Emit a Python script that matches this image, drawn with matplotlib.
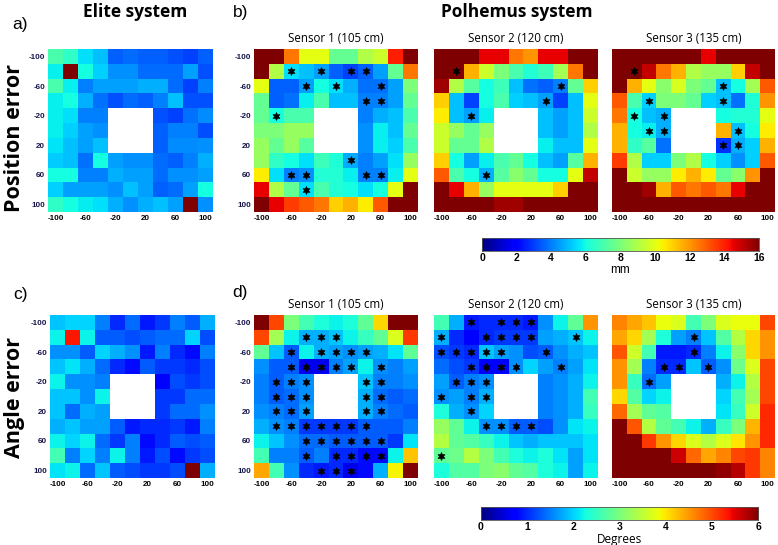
import numpy as np
import matplotlib
matplotlib.use("Agg")
import matplotlib.pyplot as plt

N = None
coords = [-100, -80, -60, -40, -20, 0, 20, 40, 60, 80, 100]
tick_vals = [-100, -60, -20, 20, 60, 100]

# Position error (mm); rows: y = -100 (top) .. 100 (bottom); cols: x = -100 .. 100
elite_pos = [
    [7.0, 6.5, 5.5, 5.0, 3.5, 3.7, 3.5, 3.5, 3.3, 3.0, 3.5],
    [5.8, 16.0, 6.0, 5.3, 4.3, 4.3, 3.7, 3.7, 3.7, 4.5, 3.3],
    [7.0, 5.8, 4.0, 4.5, 4.5, 4.5, 4.8, 4.8, 3.7, 3.0, 4.0],
    [5.8, 6.0, 4.8, 3.8, 3.3, 3.7, 3.5, 4.0, 5.0, 3.3, 3.3],
    [5.8, 5.5, 4.0, 4.0, N, N, N, 3.3, 3.0, 3.8, 4.2],
    [5.8, 5.3, 4.5, 4.3, N, N, N, 3.5, 4.0, 4.0, 3.2],
    [5.6, 5.0, 4.5, 5.0, N, N, N, 3.5, 4.2, 4.2, 4.3],
    [5.2, 5.0, 3.8, 6.0, 4.5, 4.3, 4.3, 3.7, 3.5, 4.0, 4.8],
    [6.0, 6.0, 4.0, 4.0, 4.8, 4.5, 4.5, 3.7, 4.3, 4.3, 4.5],
    [5.3, 4.5, 4.5, 4.5, 4.3, 5.0, 4.5, 3.5, 3.7, 4.5, 6.0],
    [6.5, 6.0, 5.7, 5.5, 4.8, 4.3, 4.8, 5.0, 4.5, 16.0, 4.3],
]
s1_pos = [
    [16, 16, 12.5, 10, 10, 7.5, 7.5, 9, 9.5, 14, 16],
    [16, 9, 5.5, 5, 4.5, 3.5, 3, 3.5, 4.5, 7.5, 12.5],
    [10, 3.5, 3.5, 4.5, 6, 5.5, 4.8, 3.8, 3.8, 4.5, 8],
    [7.5, 3.5, 3.8, 5.8, 7, 5, 5, 4, 4, 4.5, 7.5],
    [7.5, 6, 7, 7, N, N, N, 4, 4.8, 5, 7],
    [8, 8, 8.5, 8.5, N, N, N, 4.3, 5.8, 5, 7.5],
    [8.5, 7.5, 8.5, 7.3, N, N, N, 4.3, 5.8, 5.3, 7],
    [8.5, 6.5, 6, 5.5, 6.8, 6.2, 4.7, 4, 4.5, 5.5, 8.5],
    [10.5, 5.5, 4, 4.3, 6.3, 6.3, 5.8, 4, 4, 5.8, 10],
    [14.5, 9, 7.5, 5.5, 7, 6.3, 6, 5.5, 6, 10, 16],
    [16, 14.5, 13.5, 13, 12.5, 11, 11.5, 10.5, 13, 16, 16],
]
s2_pos = [
    [16, 16, 16, 14.5, 14.5, 12.5, 12, 14.5, 14.5, 16, 16],
    [16, 16, 11.5, 9.5, 8, 7, 6.3, 6.8, 8.8, 12.5, 16],
    [15.5, 9, 7.3, 6, 6.8, 5, 3.8, 3.5, 4, 7.5, 11],
    [11, 5, 3, 6, 7, 5.3, 5, 4.5, 3, 5, 10],
    [10.5, 5, 4.5, 5.8, N, N, N, 5, 4.5, 5, 9.5],
    [9.5, 8.5, 7.5, 8.5, N, N, N, 5, 4.5, 5, 9],
    [9.5, 7.5, 7.5, 9, N, N, N, 5.8, 5, 5, 10],
    [11, 6, 4.5, 5.8, 7, 7.5, 6, 5, 4.5, 7.3, 11.5],
    [13, 7, 6, 4.8, 7.3, 8.3, 7.5, 6, 6, 10, 15],
    [16, 14.5, 11.5, 8.5, 10, 10, 10, 10, 11, 16, 16],
    [16, 16, 16, 16, 15.5, 15.5, 16, 16, 16, 16, 16],
]
s3_pos = [
    [16, 16, 16, 16, 16, 16, 14.5, 16, 16, 16, 16],
    [16, 16, 15, 12.5, 11.5, 9, 8.5, 8.5, 11, 15, 16],
    [16, 11.5, 10, 8.3, 9.8, 8, 7.5, 5, 6, 8.8, 13],
    [13, 7, 5.3, 8, 8, 7.5, 5.3, 5, 3.8, 6.2, 12],
    [12.5, 6, 5, 4.8, N, N, N, 6, 6.3, 6.3, 10],
    [11.5, 6, 5.8, 4.8, N, N, N, 11.5, 5, 6, 10.5],
    [11.5, 6.5, 7.3, 3.8, N, N, N, 2.8, 4.8, 5.3, 11.5],
    [13.5, 9, 5.3, 5.3, 8, 9, 6, 5.3, 4.3, 5.3, 13],
    [16, 9.5, 8.5, 8.5, 10.5, 11.5, 10.5, 7.5, 8.3, 12, 16],
    [16, 16, 15.5, 11.5, 13, 12.5, 13, 12.5, 14.5, 16, 16],
    [16, 16, 16, 16, 16, 16, 16, 16, 16, 16, 16],
]

# Angle error (degrees)
elite_ang = [
    [1.9, 2.0, 2.0, 1.5, 1.0, 1.4, 0.9, 1.1, 1.5, 1.3, 1.8],
    [2.2, 5.3, 2.2, 1.3, 1.3, 1.2, 1.3, 1.4, 1.4, 2.0, 1.2],
    [1.6, 1.6, 1.3, 2.0, 1.8, 1.6, 0.9, 1.5, 1.0, 0.8, 1.5],
    [1.9, 2.1, 1.8, 1.4, 1.0, 0.8, 1.3, 1.1, 1.1, 1.0, 1.2],
    [2.2, 1.6, 1.6, 1.5, N, N, N, 0.7, 1.2, 1.1, 1.2],
    [1.9, 1.9, 1.6, 2.2, N, N, N, 1.1, 1.1, 1.4, 1.4],
    [1.9, 1.4, 1.8, 1.7, N, N, N, 1.1, 1.4, 1.4, 1.6],
    [1.8, 1.9, 1.7, 1.7, 1.3, 0.9, 1.0, 1.0, 1.1, 0.9, 1.5],
    [2.2, 2.0, 2.2, 1.4, 1.1, 1.5, 0.8, 1.0, 1.3, 1.2, 1.3],
    [2.6, 1.5, 2.0, 1.5, 2.2, 1.5, 0.9, 1.2, 0.8, 1.1, 1.2],
    [2.1, 2.2, 1.4, 1.9, 1.3, 1.2, 1.1, 1.1, 1.2, 6.0, 1.8],
]
s1_ang = [
    [6.0, 5.0, 3.0, 2.6, 2.3, 2.2, 2.3, 2.8, 4.1, 6.0, 6.0],
    [5.0, 3.3, 2.2, 1.8, 1.8, 1.9, 2.2, 2.5, 2.8, 3.7, 5.1],
    [2.8, 1.9, 1.3, 2.2, 1.8, 1.7, 1.6, 1.7, 1.8, 2.1, 2.8],
    [1.6, 1.3, 1.3, 0.6, 0.6, 1.5, 1.7, 2.2, 1.6, 1.5, 1.7],
    [1.5, 1.3, 1.5, 1.6, N, N, N, 1.9, 1.5, 1.5, 1.6],
    [1.5, 1.3, 1.4, 1.6, N, N, N, 1.8, 1.4, 1.3, 1.4],
    [1.6, 1.5, 1.4, 1.7, N, N, N, 1.8, 1.5, 1.4, 1.3],
    [1.8, 1.6, 1.5, 1.1, 1.1, 1.1, 1.1, 1.3, 1.3, 1.3, 1.5],
    [2.2, 1.9, 1.6, 1.4, 1.4, 1.3, 1.3, 1.3, 1.3, 1.1, 2.1],
    [2.6, 1.5, 1.5, 1.3, 1.5, 1.0, 1.0, 0.8, 0.8, 2.2, 4.2],
    [4.4, 2.6, 1.6, 1.0, 0.9, 1.0, 0.6, 0.8, 1.8, 3.9, 6.0],
]
s2_ang = [
    [2.6, 1.8, 0.9, 1.0, 1.0, 1.0, 0.9, 1.6, 2.2, 2.8, 4.5],
    [1.8, 1.0, 0.7, 1.0, 1.1, 1.1, 1.1, 1.7, 1.8, 1.9, 2.2],
    [1.2, 1.1, 1.0, 1.9, 1.7, 1.6, 1.2, 1.3, 1.6, 1.8, 1.9],
    [1.4, 1.2, 1.1, 0.7, 0.7, 1.6, 2.0, 1.7, 1.5, 1.7, 2.1],
    [1.7, 1.3, 1.5, 1.6, N, N, N, 1.5, 1.6, 1.8, 2.2],
    [1.6, 1.7, 1.5, 1.8, N, N, N, 1.5, 1.6, 1.8, 2.6],
    [2.3, 1.8, 1.6, 2.0, N, N, N, 1.5, 1.6, 1.8, 2.5],
    [3.2, 2.8, 2.2, 1.6, 1.6, 1.3, 1.3, 1.2, 1.6, 2.1, 2.2],
    [3.4, 2.8, 2.7, 2.5, 2.2, 1.9, 1.8, 1.9, 1.9, 1.9, 2.1],
    [2.8, 2.9, 3.4, 3.0, 2.6, 2.3, 2.2, 2.3, 2.1, 1.7, 2.1],
    [2.3, 2.7, 2.7, 3.0, 3.1, 2.8, 2.7, 2.3, 2.2, 1.7, 2.2],
]
s3_ang = [
    [4.6, 4.4, 4.2, 3.8, 3.7, 2.6, 3.0, 3.7, 3.8, 3.8, 5.0],
    [4.4, 4.1, 3.3, 2.3, 1.7, 1.5, 1.9, 2.7, 3.4, 4.1, 4.5],
    [4.9, 3.6, 2.6, 0.9, 0.9, 1.0, 1.5, 2.2, 3.1, 4.1, 4.5],
    [4.5, 3.3, 1.5, 1.0, 1.0, 1.9, 1.3, 1.6, 2.9, 3.7, 5.0],
    [4.5, 2.5, 1.4, 1.7, N, N, N, 1.8, 2.2, 3.4, 5.0],
    [4.1, 2.7, 2.0, 2.2, N, N, N, 2.0, 2.6, 3.3, 5.0],
    [4.8, 3.3, 2.8, 2.7, N, N, N, 2.1, 2.5, 3.6, 5.2],
    [6.0, 4.9, 3.4, 2.8, 2.6, 2.2, 1.8, 2.5, 3.0, 4.3, 5.2],
    [6.0, 6.0, 5.1, 4.5, 4.1, 3.7, 3.4, 3.7, 4.0, 4.5, 5.2],
    [6.0, 6.0, 6.0, 6.0, 5.6, 4.8, 4.4, 4.6, 5.0, 5.1, 4.6],
    [6.0, 6.0, 6.0, 6.0, 6.0, 6.0, 6.0, 5.9, 5.7, 5.1, 4.6],
]

# Significance markers: row y -> list of x
s1_pos_stars = {-80: [-60, -20, 20, 40], -60: [-40, 0, 60], -40: [40, 60], -20: [-80],
                40: [20], 60: [-60, -40, 40, 60], 80: [-40]}
s2_pos_stars = {-80: [-80], -60: [60], -40: [40], -20: [-60], 60: [-40]}
s3_pos_stars = {-80: [-80], -60: [40], -40: [-60, 40], -20: [-80, -40], 0: [-60, -40, 60],
                20: [40, 60]}
s1_ang_stars = {-80: [-40, -20, 0], -60: [-60, -20, 0, 20, 40], -40: [-60, -40, -20, 0, 20, 60],
                -20: [-80, -60, -40, 40, 60], 0: [-80, -60, -40, 40, 60], 20: [-80, -60, -40, 40, 60],
                40: [-80, -60, -40, -20, 0, 20, 40], 60: [-40, -20, 0, 20, 40, 60],
                80: [-40, 0, 20, 40, 60], 100: [-20, 0, 20]}
s2_ang_stars = {-100: [-60, -20, 0, 20], -80: [-100, -40, -20, 0, 20, 80],
                -60: [-100, -80, -60, -40, -20, 40], -40: [-60, -40, -20, 0, 60],
                -20: [-80, -60, -40], 0: [-100, -60, -40], 20: [-60], 40: [-40, -20, 0, 20],
                80: [-100]}
s3_ang_stars = {-80: [0], -60: [0], -40: [-40, -20, 20], -20: [-60]}

pos_ticks = [0, 2, 4, 6, 8, 10, 12, 14, 16]
ang_ticks = [0, 1, 2, 3, 4, 5, 6]

W, H = 778, 545
fig = plt.figure(figsize=(W / 100, H / 100), dpi=100)

cmap = plt.get_cmap("jet").copy()
cmap.set_bad("white")

TICKC = "#15154a"


def add_px(x0, y0, x1, y1):
    return fig.add_axes([x0 / W, 1 - y1 / H, (x1 - x0) / W, (y1 - y0) / H])


def panel(box, data, vmax, stars=None, ylabels=True, title=None):
    ax = add_px(*box)
    arr = np.array([[np.nan if v is None else v for v in row] for row in data], dtype=float)
    m = np.ma.masked_invalid(arr)
    ax.imshow(m, cmap=cmap, vmin=0, vmax=vmax, extent=(-110, 110, 110, -110),
              aspect="auto", interpolation="nearest")
    if stars:
        xs, ys = [], []
        for y, xl in stars.items():
            for x in xl:
                xs.append(x)
                ys.append(y)
        ax.scatter(xs, ys, marker=(6, 1, 0), s=34, c="black", linewidths=0.4, zorder=3)
    ax.set_xlim(-110, 110)
    ax.set_ylim(110, -110)
    ax.set_xticks(tick_vals)
    ax.set_yticks(tick_vals)
    ax.set_xticklabels([str(t) for t in tick_vals], fontsize=5.8, fontweight="bold",
                       family="Liberation Sans", color="black")
    if ylabels:
        ax.set_yticklabels([str(t) for t in tick_vals], fontsize=5.8, fontweight="bold",
                           family="Liberation Sans", color=TICKC)
    else:
        ax.set_yticklabels([])
    ax.tick_params(length=0, pad=2)
    for s in ax.spines.values():
        s.set_visible(False)
    if title:
        ax.set_title(title, fontsize=8.3, family="Open Sans", pad=5)
    return ax


# Row 1: position error
panel((48, 49, 213, 212), elite_pos, 16)
panel((254, 49, 418, 212), s1_pos, 16, s1_pos_stars, title="Sensor 1 (105 cm)")
panel((434, 49, 598, 212), s2_pos, 16, s2_pos_stars, ylabels=False, title="Sensor 2 (120 cm)")
panel((612, 49, 775, 212), s3_pos, 16, s3_pos_stars, ylabels=False, title="Sensor 3 (135 cm)")

# Row 2: angle error
panel((50, 315, 215, 478), elite_ang, 6)
panel((254, 315, 418, 478), s1_ang, 6, s1_ang_stars, title="Sensor 1 (105 cm)")
panel((434, 315, 598, 478), s2_ang, 6, s2_ang_stars, ylabels=False, title="Sensor 2 (120 cm)")
panel((612, 315, 775, 478), s3_ang, 6, s3_ang_stars, ylabels=False, title="Sensor 3 (135 cm)")

# Colorbars
def cbar(box, vmax, ticks, label, lfont):
    cax = add_px(*box)
    grad = np.linspace(0, vmax, 256)[None, :]
    cax.imshow(grad, cmap=cmap, vmin=0, vmax=vmax, extent=(0, vmax, 0, 1), aspect="auto")
    cax.set_xlim(0, vmax)
    cax.set_yticks([])
    cax.set_xticks(ticks)
    cax.set_xticklabels([str(t) for t in ticks], fontsize=7.5, fontweight="bold",
                        family="Liberation Sans")
    cax.tick_params(length=0, pad=1.5)
    for s in cax.spines.values():
        s.set_linewidth(0.6)
        s.set_color("#555555")
    cax.set_xlabel(label, fontsize=8.5, family=lfont, labelpad=1)
    return cax


cbar((482, 238, 759, 251), 16, pos_ticks, "mm", "Liberation Sans")
cbar((481, 507, 758, 520), 6, ang_ticks, "Degrees", "Open Sans")

# Headings and labels
fig.text(135 / W, 1 - 12 / H, "Elite system", fontsize=12.5, fontweight="bold",
         family="Open Sans", ha="center", va="center")
fig.text(517 / W, 1 - 12 / H, "Polhemus system", fontsize=12.5, fontweight="bold",
         family="Open Sans", ha="center", va="center")
fig.text(15 / W, 1 - 138 / H, "Position error", fontsize=15.5, fontweight="bold",
         family="Open Sans", rotation=90, ha="center", va="center")
fig.text(15 / W, 1 - 398 / H, "Angle error", fontsize=15.5, fontweight="bold",
         family="Open Sans", rotation=90, ha="center", va="center")
for lab, x, y in [("a)", 20, 25), ("b)", 241, 12), ("c)", 20, 295), ("d)", 240, 292)]:
    fig.text(x / W, 1 - y / H, lab, fontsize=12.5, family="Liberation Sans",
             ha="center", va="center")

fig.savefig("out.png", dpi=100)
